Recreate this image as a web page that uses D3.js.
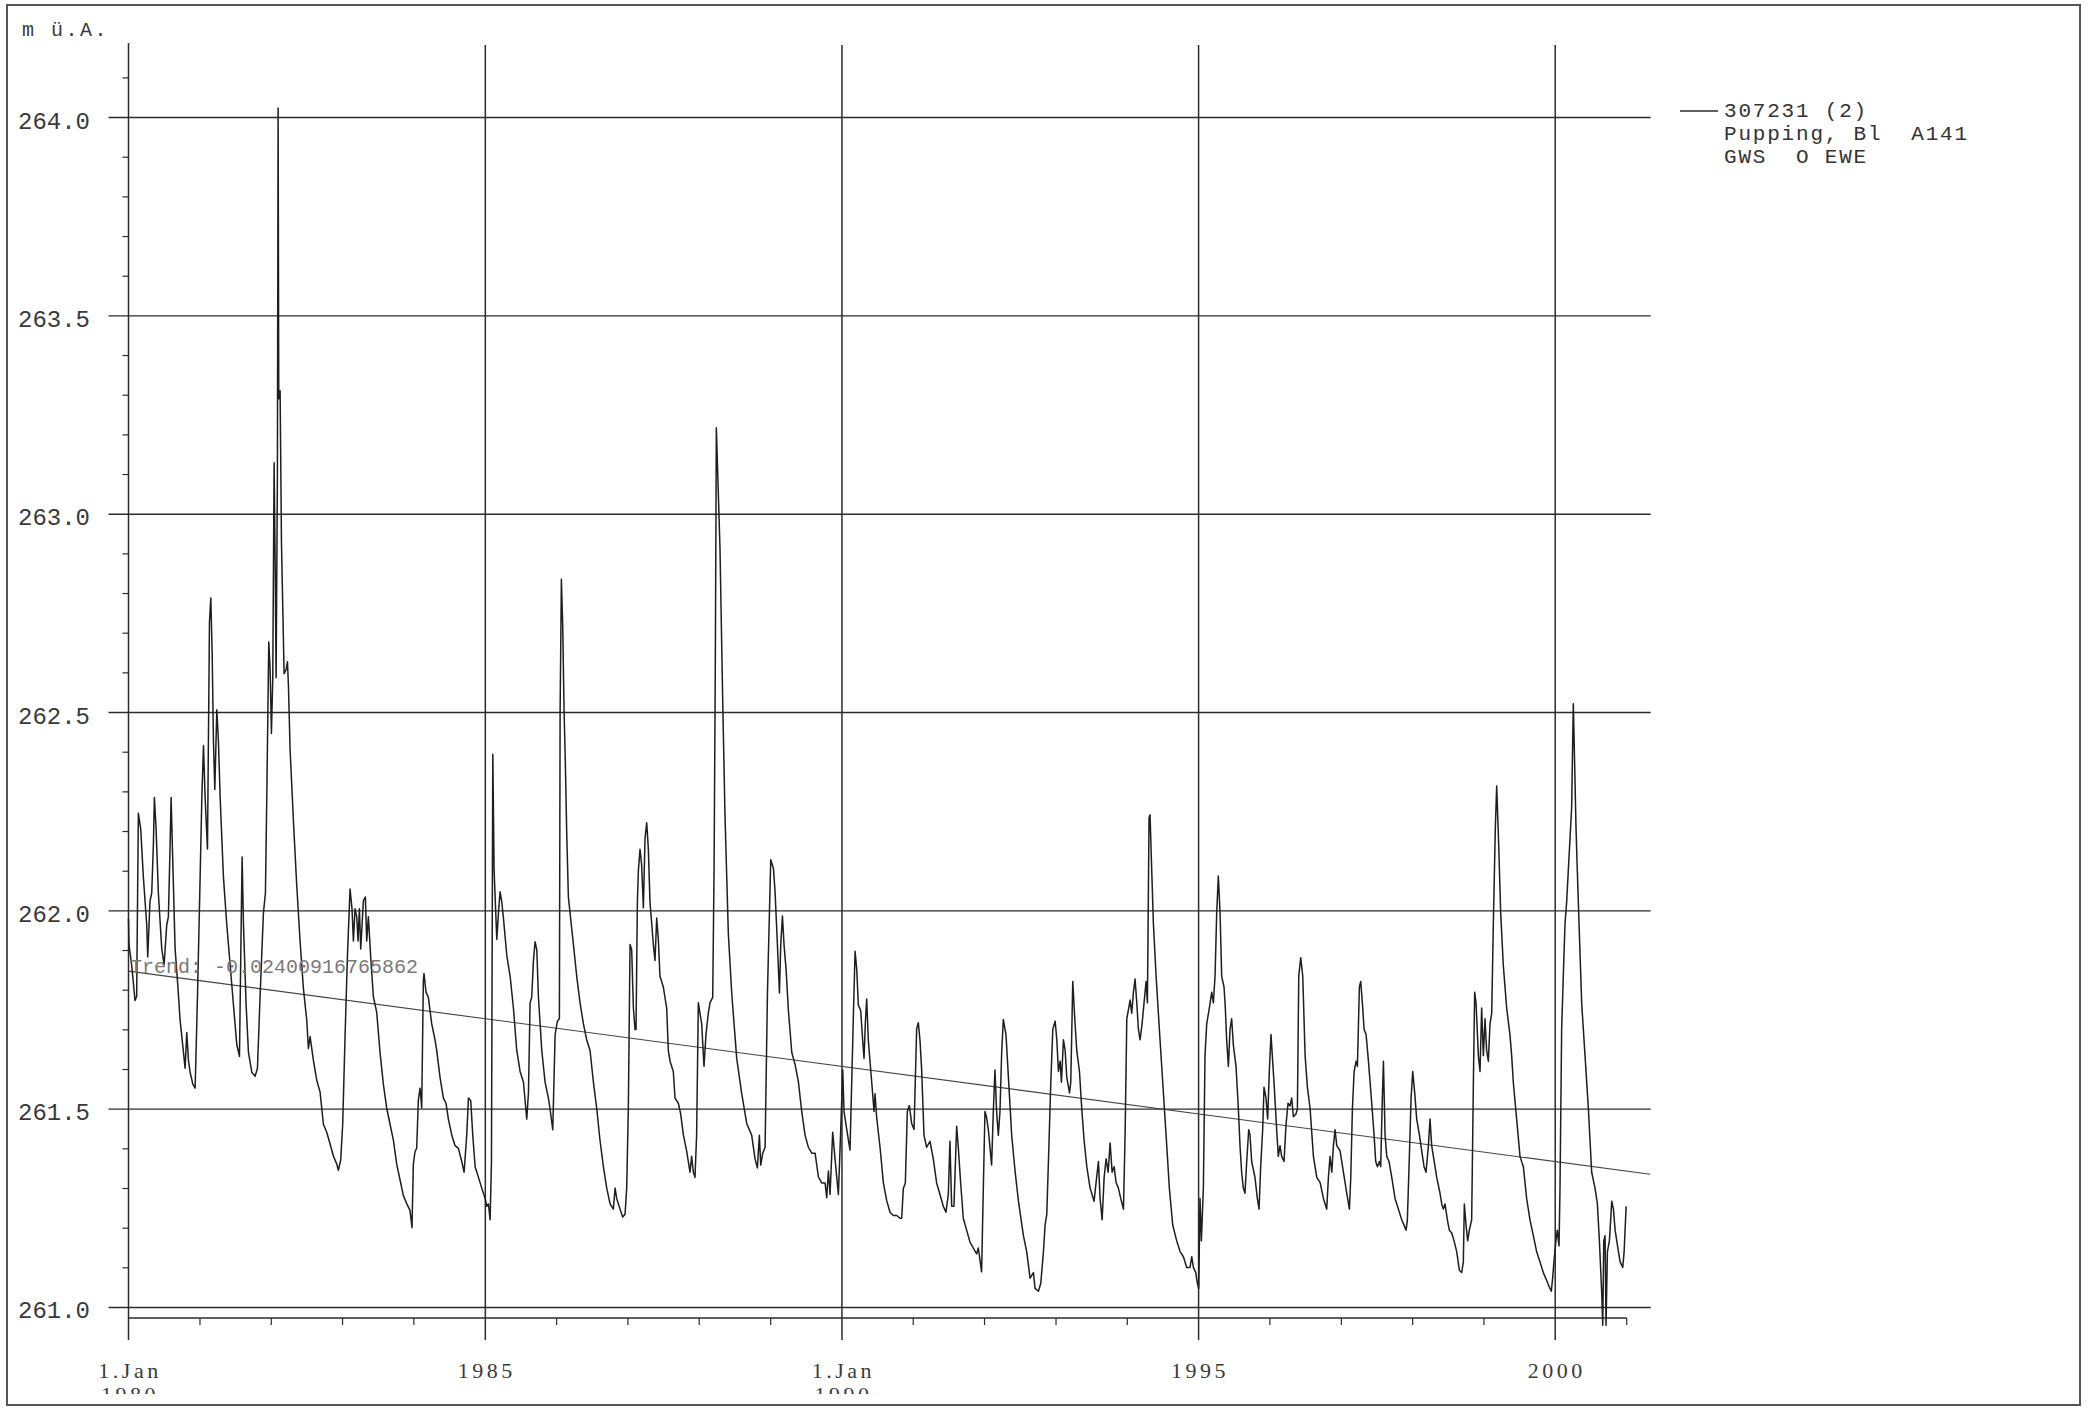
<!DOCTYPE html>
<html>
<head>
<meta charset="utf-8">
<script src="https://cdn.jsdelivr.net/npm/d3@7"></script>
<style>
  html, body { margin: 0; padding: 0; background: #fff; }
  svg { display: block; }
  text { white-space: pre; }
</style>
</head>
<body>
<script>
// ---- values ----
const yLabels = [261.0, 261.5, 262.0, 262.5, 263.0, 263.5, 264.0];
const majorYears = [1980, 1985, 1990, 1995, 2000];
const xLabels = [["1.Jan", "1980"], ["1985"], ["1.Jan", "1990"], ["1995"], ["2000"]];
const legendLines = ["307231 (2)", "Pupping, Bl  A141", "GWS  O EWE"];
const unitLabel = "m ü.A.";
const trendSlope = -0.02400916765862;   // m per year
const trendStart = 261.848;             // level of trend on 1 Jan 1980
const trendEndYear = 2001.33;

// groundwater level [decimal year, m ü.A.]
const gws = [
  [1980.000, 261.980], [1980.007, 261.914], [1980.044, 261.864], [1980.091, 261.774], [1980.114, 261.784],
  [1980.138, 262.246], [1980.171, 262.206], [1980.208, 262.085], [1980.255, 261.965], [1980.269, 261.884],
  [1980.301, 262.025], [1980.325, 262.045], [1980.348, 262.166], [1980.362, 262.286], [1980.386, 262.206],
  [1980.418, 262.045], [1980.465, 261.904], [1980.498, 261.864], [1980.535, 261.965], [1980.558, 261.985],
  [1980.582, 262.166], [1980.596, 262.286], [1980.619, 262.126], [1980.652, 261.904], [1980.685, 261.824],
  [1980.722, 261.724], [1980.769, 261.643], [1980.792, 261.603], [1980.815, 261.693], [1980.839, 261.623],
  [1980.862, 261.593], [1980.900, 261.563], [1980.932, 261.553], [1980.965, 261.784], [1981.002, 262.085],
  [1981.026, 262.286], [1981.049, 262.417], [1981.072, 262.286], [1981.105, 262.156], [1981.133, 262.728],
  [1981.152, 262.789], [1981.171, 262.648], [1981.189, 262.427], [1981.208, 262.306], [1981.236, 262.507],
  [1981.259, 262.427], [1981.283, 262.286], [1981.329, 262.085], [1981.376, 261.965], [1981.423, 261.864],
  [1981.469, 261.764], [1981.516, 261.663], [1981.554, 261.633], [1981.572, 261.884], [1981.591, 262.136],
  [1981.610, 261.965], [1981.647, 261.764], [1981.680, 261.643], [1981.727, 261.593], [1981.773, 261.583],
  [1981.806, 261.603], [1981.843, 261.784], [1981.890, 261.995], [1981.918, 262.045], [1981.937, 262.286],
  [1981.965, 262.678], [1981.984, 262.608], [1982.002, 262.447], [1982.021, 262.588], [1982.040, 263.130],
  [1982.054, 262.889], [1982.068, 262.588], [1982.086, 263.090], [1982.096, 264.024], [1982.105, 263.291],
  [1982.124, 263.311], [1982.143, 262.929], [1982.161, 262.768], [1982.180, 262.598], [1982.208, 262.608],
  [1982.227, 262.628], [1982.241, 262.567], [1982.264, 262.407], [1982.311, 262.226], [1982.357, 262.065],
  [1982.404, 261.924], [1982.451, 261.804], [1982.498, 261.724], [1982.521, 261.653], [1982.545, 261.683],
  [1982.591, 261.623], [1982.638, 261.573], [1982.685, 261.543], [1982.731, 261.462], [1982.778, 261.442],
  [1982.825, 261.412], [1982.871, 261.382], [1982.918, 261.362], [1982.941, 261.346], [1982.974, 261.372],
  [1983.002, 261.462], [1983.035, 261.683], [1983.068, 261.884], [1983.105, 262.055], [1983.133, 262.005],
  [1983.152, 261.924], [1983.175, 262.005], [1983.199, 261.985], [1983.217, 261.924], [1983.236, 262.005],
  [1983.255, 261.904], [1983.292, 262.025], [1983.320, 262.035], [1983.339, 261.924], [1983.362, 261.985],
  [1983.395, 261.884], [1983.432, 261.784], [1983.479, 261.744], [1983.526, 261.643], [1983.572, 261.563],
  [1983.619, 261.503], [1983.666, 261.462], [1983.713, 261.422], [1983.759, 261.362], [1983.806, 261.322],
  [1983.853, 261.282], [1983.900, 261.262], [1983.946, 261.245], [1983.974, 261.201], [1983.993, 261.362],
  [1984.016, 261.392], [1984.040, 261.402], [1984.063, 261.523], [1984.087, 261.553], [1984.110, 261.503],
  [1984.133, 261.824], [1984.142, 261.842], [1984.170, 261.795], [1984.203, 261.782], [1984.250, 261.715],
  [1984.296, 261.675], [1984.320, 261.648], [1984.366, 261.581], [1984.413, 261.528], [1984.450, 261.515],
  [1984.483, 261.475], [1984.530, 261.435], [1984.577, 261.408], [1984.623, 261.401], [1984.670, 261.368],
  [1984.703, 261.341], [1984.740, 261.435], [1984.764, 261.528], [1984.796, 261.521], [1984.824, 261.435],
  [1984.857, 261.355], [1984.904, 261.328], [1984.950, 261.301], [1984.997, 261.275], [1985.021, 261.255],
  [1985.044, 261.261], [1985.067, 261.221], [1985.086, 261.368], [1985.105, 262.395], [1985.123, 262.102],
  [1985.161, 261.928], [1985.184, 261.995], [1985.207, 262.048], [1985.231, 262.022], [1985.254, 261.982],
  [1985.301, 261.888], [1985.348, 261.835], [1985.394, 261.755], [1985.441, 261.648], [1985.488, 261.595],
  [1985.535, 261.568], [1985.581, 261.475], [1985.605, 261.541], [1985.628, 261.768], [1985.651, 261.782],
  [1985.675, 261.875], [1985.698, 261.922], [1985.722, 261.902], [1985.745, 261.782], [1985.792, 261.648],
  [1985.838, 261.568], [1985.885, 261.528], [1985.908, 261.501], [1985.946, 261.448], [1985.979, 261.688],
  [1986.011, 261.722], [1986.039, 261.728], [1986.049, 262.502], [1986.067, 262.836], [1986.086, 262.716],
  [1986.105, 262.502], [1986.123, 262.369], [1986.142, 262.195], [1986.165, 262.035], [1986.212, 261.955],
  [1986.236, 261.915], [1986.282, 261.835], [1986.329, 261.768], [1986.376, 261.715], [1986.422, 261.675],
  [1986.469, 261.648], [1986.516, 261.568], [1986.563, 261.501], [1986.609, 261.421], [1986.656, 261.355],
  [1986.703, 261.301], [1986.750, 261.261], [1986.796, 261.248], [1986.820, 261.301], [1986.843, 261.275],
  [1986.890, 261.248], [1986.927, 261.228], [1986.960, 261.235], [1986.983, 261.301], [1987.006, 261.501],
  [1987.030, 261.915], [1987.053, 261.902], [1987.077, 261.755], [1987.100, 261.701], [1987.114, 261.701],
  [1987.133, 262.022], [1987.147, 262.102], [1987.170, 262.155], [1987.193, 262.115], [1987.217, 262.008],
  [1987.240, 262.182], [1987.264, 262.222], [1987.287, 262.155], [1987.310, 262.022], [1987.334, 261.968],
  [1987.357, 261.915], [1987.380, 261.875], [1987.404, 261.982], [1987.427, 261.928], [1987.450, 261.835],
  [1987.497, 261.808], [1987.544, 261.755], [1987.567, 261.648], [1987.591, 261.621], [1987.637, 261.595],
  [1987.661, 261.528], [1987.708, 261.515], [1987.740, 261.488], [1987.778, 261.435], [1987.824, 261.395],
  [1987.871, 261.341], [1987.894, 261.381], [1987.918, 261.341], [1987.941, 261.328], [1987.964, 261.435],
  [1987.988, 261.768], [1988.011, 261.742], [1988.035, 261.715], [1988.067, 261.608], [1988.095, 261.688],
  [1988.128, 261.742], [1988.151, 261.768], [1988.189, 261.782], [1988.208, 262.102], [1988.226, 262.636],
  [1988.240, 263.218], [1988.291, 262.914], [1988.328, 262.540], [1988.361, 262.241], [1988.408, 261.942],
  [1988.455, 261.793], [1988.525, 261.628], [1988.595, 261.539], [1988.665, 261.464], [1988.735, 261.434],
  [1988.782, 261.374], [1988.814, 261.352], [1988.842, 261.434], [1988.861, 261.359], [1988.889, 261.389],
  [1988.922, 261.404], [1988.955, 261.793], [1989.001, 262.129], [1989.039, 262.107], [1989.062, 262.047],
  [1989.095, 261.913], [1989.123, 261.793], [1989.141, 261.913], [1989.165, 261.987], [1989.188, 261.913],
  [1989.216, 261.853], [1989.249, 261.748], [1989.296, 261.643], [1989.342, 261.613], [1989.389, 261.569],
  [1989.436, 261.494], [1989.483, 261.434], [1989.529, 261.404], [1989.576, 261.389], [1989.623, 261.389],
  [1989.670, 261.329], [1989.716, 261.314], [1989.763, 261.314], [1989.786, 261.277], [1989.810, 261.344],
  [1989.833, 261.285], [1989.870, 261.442], [1989.903, 261.374], [1989.950, 261.285], [1989.983, 261.449],
  [1990.011, 261.599], [1990.029, 261.494], [1990.067, 261.449], [1990.113, 261.397], [1990.137, 261.569],
  [1990.160, 261.733], [1990.184, 261.898], [1990.207, 261.853], [1990.230, 261.763], [1990.263, 261.748],
  [1990.291, 261.673], [1990.310, 261.628], [1990.328, 261.718], [1990.347, 261.778], [1990.370, 261.673],
  [1990.417, 261.569], [1990.450, 261.494], [1990.464, 261.539], [1990.487, 261.479], [1990.534, 261.404],
  [1990.581, 261.314], [1990.627, 261.270], [1990.674, 261.240], [1990.721, 261.232], [1990.768, 261.232],
  [1990.814, 261.225], [1990.838, 261.225], [1990.861, 261.300], [1990.889, 261.314], [1990.917, 261.494],
  [1990.945, 261.509], [1990.978, 261.464], [1991.011, 261.449], [1991.048, 261.703], [1991.071, 261.718],
  [1991.095, 261.673], [1991.118, 261.599], [1991.151, 261.434], [1991.188, 261.404], [1991.235, 261.419],
  [1991.282, 261.374], [1991.328, 261.314], [1991.375, 261.285], [1991.422, 261.255], [1991.459, 261.240],
  [1991.492, 261.285], [1991.515, 261.419], [1991.539, 261.255], [1991.571, 261.255], [1991.609, 261.457],
  [1991.632, 261.404], [1991.665, 261.314], [1991.702, 261.225], [1991.749, 261.195], [1991.796, 261.165],
  [1991.842, 261.150], [1991.889, 261.135], [1991.913, 261.150], [1991.959, 261.090], [1991.983, 261.300],
  [1992.006, 261.494], [1992.029, 261.479], [1992.053, 261.449], [1992.099, 261.359], [1992.123, 261.494],
  [1992.146, 261.599], [1992.169, 261.494], [1992.193, 261.434], [1992.216, 261.494], [1992.240, 261.643],
  [1992.263, 261.726], [1992.300, 261.688], [1992.333, 261.584], [1992.380, 261.434], [1992.427, 261.344],
  [1992.473, 261.270], [1992.544, 261.181], [1992.590, 261.141], [1992.637, 261.074], [1992.684, 261.088],
  [1992.707, 261.048], [1992.754, 261.041], [1992.787, 261.061], [1992.824, 261.141], [1992.847, 261.208],
  [1992.871, 261.235], [1992.894, 261.368], [1992.927, 261.568], [1992.955, 261.701], [1992.988, 261.722],
  [1993.011, 261.675], [1993.034, 261.595], [1993.058, 261.621], [1993.076, 261.568], [1993.104, 261.675],
  [1993.128, 261.648], [1993.151, 261.581], [1993.189, 261.541], [1993.207, 261.568], [1993.235, 261.822],
  [1993.263, 261.728], [1993.291, 261.648], [1993.329, 261.595], [1993.361, 261.501], [1993.394, 261.421],
  [1993.432, 261.355], [1993.478, 261.301], [1993.534, 261.268], [1993.562, 261.315], [1993.595, 261.368],
  [1993.618, 261.275], [1993.647, 261.221], [1993.675, 261.328], [1993.703, 261.375], [1993.731, 261.341],
  [1993.759, 261.415], [1993.787, 261.341], [1993.815, 261.355], [1993.843, 261.315], [1993.875, 261.301],
  [1993.908, 261.275], [1993.946, 261.248], [1993.969, 261.435], [1993.993, 261.728], [1994.020, 261.755],
  [1994.039, 261.775], [1994.062, 261.742], [1994.086, 261.795], [1994.109, 261.828], [1994.133, 261.768],
  [1994.156, 261.701], [1994.179, 261.675], [1994.207, 261.715], [1994.235, 261.768], [1994.263, 261.822],
  [1994.282, 261.768], [1994.305, 262.235], [1994.319, 262.242], [1994.338, 262.129], [1994.366, 261.968],
  [1994.404, 261.835], [1994.450, 261.701], [1994.497, 261.568], [1994.544, 261.435], [1994.590, 261.301],
  [1994.637, 261.208], [1994.693, 261.168], [1994.740, 261.141], [1994.787, 261.128], [1994.833, 261.101],
  [1994.880, 261.101], [1994.904, 261.128], [1994.927, 261.101], [1994.960, 261.088], [1994.983, 261.061],
  [1995.002, 261.048], [1995.020, 261.275], [1995.039, 261.168], [1995.067, 261.301], [1995.090, 261.635],
  [1995.114, 261.715], [1995.151, 261.755], [1995.184, 261.795], [1995.207, 261.768], [1995.231, 261.835],
  [1995.254, 261.995], [1995.277, 262.088], [1995.301, 261.995], [1995.324, 261.835], [1995.357, 261.808],
  [1995.375, 261.755], [1995.394, 261.675], [1995.418, 261.608], [1995.441, 261.701], [1995.464, 261.728],
  [1995.488, 261.661], [1995.525, 261.608], [1995.558, 261.501], [1995.581, 261.408], [1995.604, 261.341],
  [1995.628, 261.301], [1995.651, 261.288], [1995.675, 261.368], [1995.703, 261.448], [1995.721, 261.435],
  [1995.745, 261.368], [1995.791, 261.328], [1995.824, 261.275], [1995.848, 261.248], [1995.871, 261.355],
  [1995.899, 261.448], [1995.918, 261.555], [1995.946, 261.528], [1995.969, 261.475], [1995.992, 261.595],
  [1996.016, 261.688], [1996.039, 261.621], [1996.062, 261.555], [1996.095, 261.448], [1996.118, 261.381],
  [1996.142, 261.408], [1996.165, 261.381], [1996.198, 261.368], [1996.226, 261.461], [1996.254, 261.515],
  [1996.282, 261.508], [1996.305, 261.528], [1996.329, 261.481], [1996.366, 261.488], [1996.385, 261.501],
  [1996.404, 261.835], [1996.432, 261.882], [1996.460, 261.835], [1996.493, 261.635], [1996.525, 261.555],
  [1996.563, 261.501], [1996.609, 261.381], [1996.656, 261.328], [1996.703, 261.315], [1996.749, 261.275],
  [1996.795, 261.248], [1996.819, 261.328], [1996.842, 261.381], [1996.866, 261.341], [1996.889, 261.408],
  [1996.912, 261.448], [1996.936, 261.408], [1996.982, 261.395], [1997.029, 261.341], [1997.076, 261.288],
  [1997.113, 261.248], [1997.132, 261.328], [1997.155, 261.501], [1997.179, 261.595], [1997.207, 261.621],
  [1997.225, 261.608], [1997.253, 261.808], [1997.272, 261.822], [1997.300, 261.755], [1997.319, 261.701],
  [1997.347, 261.688], [1997.380, 261.621], [1997.426, 261.515], [1997.459, 261.435], [1997.482, 261.368],
  [1997.506, 261.355], [1997.534, 261.368], [1997.552, 261.355], [1997.571, 261.501], [1997.590, 261.621],
  [1997.613, 261.435], [1997.637, 261.381], [1997.669, 261.368], [1997.707, 261.328], [1997.753, 261.275],
  [1997.800, 261.248], [1997.847, 261.221], [1997.908, 261.195], [1997.926, 261.221], [1997.954, 261.381],
  [1997.978, 261.528], [1998.001, 261.595], [1998.029, 261.541], [1998.057, 261.475], [1998.095, 261.435],
  [1998.127, 261.395], [1998.160, 261.355], [1998.188, 261.341], [1998.221, 261.408], [1998.244, 261.475],
  [1998.267, 261.408], [1998.291, 261.381], [1998.338, 261.328], [1998.384, 261.288], [1998.408, 261.261],
  [1998.431, 261.248], [1998.454, 261.261], [1998.487, 261.221], [1998.515, 261.195], [1998.548, 261.188],
  [1998.581, 261.168], [1998.618, 261.141], [1998.655, 261.094], [1998.688, 261.088], [1998.711, 261.115],
  [1998.725, 261.261], [1998.749, 261.208], [1998.772, 261.168], [1998.795, 261.195], [1998.828, 261.221],
  [1998.852, 261.568], [1998.870, 261.795], [1998.889, 261.768], [1998.922, 261.635], [1998.945, 261.595],
  [1998.968, 261.755], [1998.992, 261.635], [1999.015, 261.728], [1999.038, 261.648], [1999.062, 261.621],
  [1999.085, 261.715], [1999.109, 261.742], [1999.132, 261.968], [1999.160, 262.209], [1999.179, 262.315],
  [1999.207, 262.168], [1999.235, 261.995], [1999.272, 261.862], [1999.319, 261.755], [1999.365, 261.688],
  [1999.389, 261.635], [1999.412, 261.568], [1999.459, 261.475], [1999.506, 261.381], [1999.553, 261.355],
  [1999.599, 261.275], [1999.646, 261.221], [1999.693, 261.181], [1999.739, 261.141], [1999.786, 261.115],
  [1999.833, 261.088], [1999.880, 261.068], [1999.926, 261.048], [1999.945, 261.041], [1999.964, 261.074],
  [1999.982, 261.115], [2000.010, 261.168], [2000.029, 261.195], [2000.053, 261.155], [2000.067, 261.301],
  [2000.090, 261.701], [2000.113, 261.835], [2000.137, 261.968], [2000.160, 262.022], [2000.183, 262.102],
  [2000.207, 262.182], [2000.230, 262.262], [2000.253, 262.522], [2000.272, 262.369], [2000.291, 262.209],
  [2000.309, 262.102], [2000.338, 261.942], [2000.370, 261.768], [2000.417, 261.635], [2000.464, 261.501],
  [2000.510, 261.341], [2000.557, 261.301], [2000.590, 261.261], [2000.618, 261.168], [2000.651, 261.035],
  [2000.665, 260.955], [2000.679, 261.168], [2000.697, 261.181], [2000.711, 260.955], [2000.730, 261.141],
  [2000.758, 261.168], [2000.791, 261.268], [2000.814, 261.248], [2000.838, 261.195], [2000.861, 261.168],
  [2000.884, 261.141], [2000.908, 261.115], [2000.945, 261.101], [2000.964, 261.141], [2000.992, 261.255]
];

// ---- helpers ----
function yearDate(t) {
  const yr = Math.floor(t);
  const s = Date.UTC(yr, 0, 1), e = Date.UTC(yr + 1, 0, 1);
  return new Date(s + (t - yr) * (e - s));
}

const width = 2095, height = 1413;
const MONO = '"Liberation Mono", "DejaVu Sans Mono", monospace';
const SERIF = '"Liberation Serif", "DejaVu Serif", serif';
const INK = '#2b2b2b';

const x = d3.scaleUtc()
  .domain([yearDate(1980), yearDate(2001)])
  .range([128.5, 1626.7]);

const y = d3.scaleLinear()
  .domain([260.9735, 264.188])
  .range([1318, 43]);

const gridRight = x.range()[1] + 24;
const gridLeft = x.range()[0] - 20;
const vTop = y.range()[1] + 2, vBottom = y.range()[0] + 22;

const svg = d3.select('body').append('svg')
  .attr('width', width)
  .attr('height', height)
  .attr('viewBox', `0 0 ${width} ${height}`);

svg.append('rect').attr('width', width).attr('height', height).attr('fill', '#fff');

// frame of the printout
svg.append('rect')
  .attr('x', 7).attr('y', 5)
  .attr('width', 2073).attr('height', 1400)
  .attr('fill', 'none')
  .attr('stroke', '#555')
  .attr('stroke-width', 2);

// horizontal grid lines at the labelled levels
svg.append('g').selectAll('line')
  .data(yLabels)
  .join('line')
  .attr('x1', gridLeft).attr('x2', gridRight)
  .attr('y1', d => y(d)).attr('y2', d => y(d))
  .attr('stroke', INK).attr('stroke-width', 1.4);

// minor ticks every 0.1 m on the left axis
const minorY = d3.range(2610, 2642).map(d => d / 10).filter(d => !yLabels.some(v => Math.abs(v - d) < 1e-6));
svg.append('g').selectAll('line')
  .data(minorY)
  .join('line')
  .attr('x1', x.range()[0] - 6).attr('x2', x.range()[0])
  .attr('y1', d => y(d)).attr('y2', d => y(d))
  .attr('stroke', INK).attr('stroke-width', 1.2);

// vertical grid lines (1980 line doubles as the y axis)
svg.append('g').selectAll('line')
  .data(majorYears)
  .join('line')
  .attr('x1', d => x(yearDate(d))).attr('x2', d => x(yearDate(d)))
  .attr('y1', (d, i) => i === 0 ? y.range()[1] : vTop)
  .attr('y2', vBottom)
  .attr('stroke', INK).attr('stroke-width', 1.5);

// x axis line with yearly ticks
svg.append('line')
  .attr('x1', x.range()[0]).attr('x2', x.range()[1])
  .attr('y1', y.range()[0]).attr('y2', y.range()[0])
  .attr('stroke', INK).attr('stroke-width', 1.4);

const minorYears = d3.range(1981, 2002).filter(d => !majorYears.includes(d));
svg.append('g').selectAll('line')
  .data(minorYears)
  .join('line')
  .attr('x1', d => x(yearDate(d))).attr('x2', d => x(yearDate(d)))
  .attr('y1', y.range()[0]).attr('y2', y.range()[0] + 7)
  .attr('stroke', INK).attr('stroke-width', 1.2);

// y labels
svg.append('g').selectAll('text')
  .data(yLabels)
  .join('text')
  .attr('x', 90)
  .attr('y', d => y(d) + 11)
  .attr('text-anchor', 'end')
  .attr('font-family', MONO)
  .attr('font-size', 24)
  .attr('fill', '#3a3a3a')
  .text(d => d.toFixed(1));

svg.append('text')
  .attr('x', 22).attr('y', 36)
  .attr('font-family', MONO)
  .attr('font-size', 20)
  .attr('letter-spacing', 2.5)
  .attr('fill', '#3a3a3a')
  .text(unitLabel);

// x labels, second line is cut by the frame in the print
svg.append('clipPath').attr('id', 'xlabClip')
  .append('rect').attr('x', 0).attr('y', 0).attr('width', width).attr('height', 1394);

const xl = svg.append('g').attr('clip-path', 'url(#xlabClip)')
  .selectAll('text')
  .data(majorYears)
  .join('text')
  .attr('font-family', SERIF)
  .attr('font-size', 22)
  .attr('letter-spacing', 3.5)
  .attr('fill', '#3a3a3a')
  .attr('text-anchor', 'middle');

xl.selectAll('tspan')
  .data((d, i) => xLabels[i].map(s => ({ s, d })))
  .join('tspan')
  .attr('x', d => x(yearDate(d.d)) + 1.5)
  .attr('y', (d, j) => 1378 + j * 24)
  .text(d => d.s);

// trend line
const trendYears = [1980, trendEndYear];
svg.append('line')
  .attr('x1', x(yearDate(trendYears[0])))
  .attr('x2', x(yearDate(trendYears[1])))
  .attr('y1', y(trendStart))
  .attr('y2', y(trendStart + trendSlope * (trendYears[1] - 1980)))
  .attr('stroke', '#444').attr('stroke-width', 1.1);

// groundwater series
const line = d3.line()
  .x(d => x(yearDate(d[0])))
  .y(d => y(d[1]));

svg.append('path')
  .datum(gws)
  .attr('d', line)
  .attr('fill', 'none')
  .attr('stroke', '#1e1e1e')
  .attr('stroke-width', 1.5)
  .attr('stroke-linejoin', 'round');

svg.append('text')
  .attr('x', 130).attr('y', 973)
  .attr('font-family', MONO)
  .attr('font-size', 20)
  .attr('fill', '#7a7a7a')
  .text('Trend: ' + trendSlope);

// legend
const lg = svg.append('g');
lg.append('line')
  .attr('x1', 1680).attr('x2', 1718)
  .attr('y1', 111).attr('y2', 111)
  .attr('stroke', INK).attr('stroke-width', 1.5);
lg.selectAll('text')
  .data(legendLines)
  .join('text')
  .attr('x', 1724)
  .attr('y', (d, i) => 117 + i * 23)
  .attr('font-family', MONO)
  .attr('font-size', 21)
  .attr('letter-spacing', 1.8)
  .attr('fill', '#333')
  .text(d => d);
</script>
</body>
</html>
